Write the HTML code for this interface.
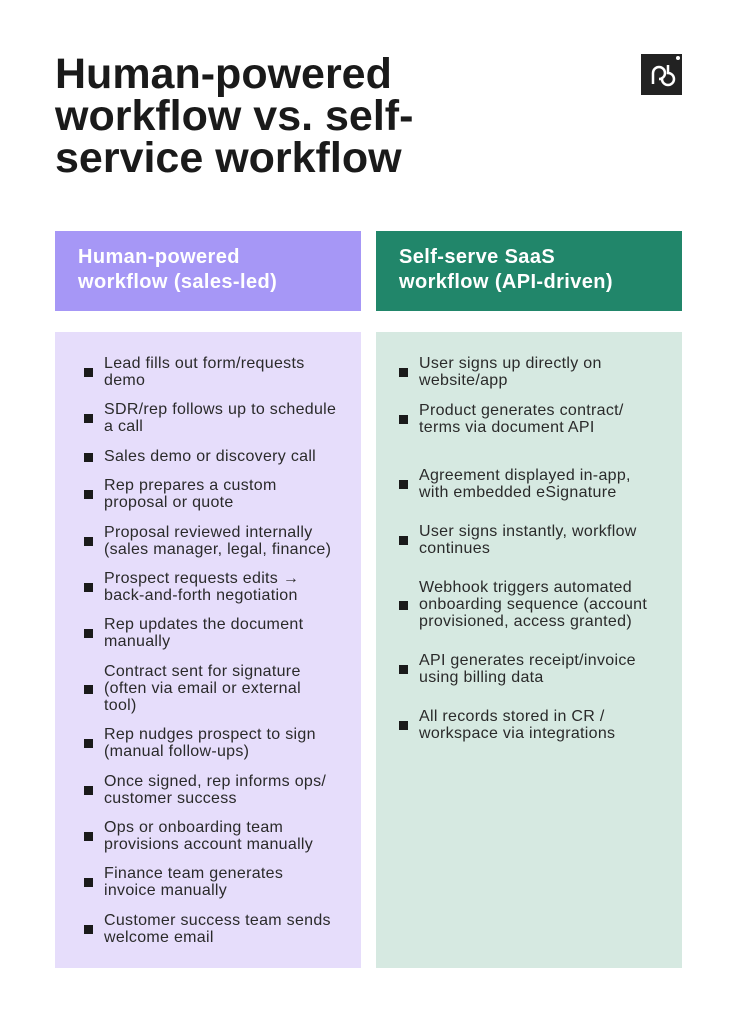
<!DOCTYPE html>
<html><head><style>
body{margin:0;width:737px;height:1024px;background:#fff;position:relative;font-family:"Liberation Sans",sans-serif;overflow:hidden}
.t{position:absolute;left:55px;top:53px;font-size:43px;font-weight:bold;line-height:42px;color:#1a1a1a;letter-spacing:0px}
.logo{position:absolute;left:641px;top:54px;width:41px;height:41px;background:#222}
.h{position:absolute;top:231px;width:306px;height:80px;color:#fff;font-weight:bold;font-size:20px;letter-spacing:0.4px;line-height:25px;box-sizing:border-box;padding:14px 0 0 23px}
.b{position:absolute;top:332px;width:306px;height:636px}
.i{position:absolute;font-size:16px;letter-spacing:0.3px;line-height:17px;color:#2a2a2a;width:262px}
.i:before{content:"";position:absolute;left:-20px;top:50%;margin-top:-4px;width:9px;height:9px;background:#1a1a1a}
</style></head><body>
<div class="t">Human-powered<br>workflow vs. self-<br>service workflow</div>
<div class="logo"><svg width="41" height="41" viewBox="0 0 41 41"><path d="M12 30V19a6 6 0 1 1 6 6h3a6 6 0 1 0 6-6V11" fill="none" stroke="#fff" stroke-width="2.5"/><circle cx="37" cy="4" r="2" fill="#fff"/></svg></div>
<div class="h" style="left:55px;background:#a697f6">Human-powered<br>workflow (sales-led)</div>
<div class="h" style="left:376px;background:#21866a">Self-serve SaaS<br>workflow (API-driven)</div>
<div class="b" style="left:55px;background:#e6ddfb"></div>
<div class="b" style="left:376px;background:#d6e9e1"></div>

<div class="i" style="left:104px;top:355px">Lead fills out form/requests<br>demo</div>
<div class="i" style="left:104px;top:401px">SDR/rep follows up to schedule<br>a call</div>
<div class="i" style="left:104px;top:448px">Sales demo or discovery call</div>
<div class="i" style="left:104px;top:477px">Rep prepares a custom<br>proposal or quote</div>
<div class="i" style="left:104px;top:524px">Proposal reviewed internally<br>(sales manager, legal, finance)</div>
<div class="i" style="left:104px;top:570px">Prospect requests edits →<br>back-and-forth negotiation</div>
<div class="i" style="left:104px;top:616px">Rep updates the document<br>manually</div>
<div class="i" style="left:104px;top:663px">Contract sent for signature<br>(often via email or external<br>tool)</div>
<div class="i" style="left:104px;top:726px">Rep nudges prospect to sign<br>(manual follow-ups)</div>
<div class="i" style="left:104px;top:773px">Once signed, rep informs ops/<br>customer success</div>
<div class="i" style="left:104px;top:819px">Ops or onboarding team<br>provisions account manually</div>
<div class="i" style="left:104px;top:865px">Finance team generates<br>invoice manually</div>
<div class="i" style="left:104px;top:912px">Customer success team sends<br>welcome email</div>

<div class="i" style="left:419px;top:355px">User signs up directly on<br>website/app</div>
<div class="i" style="left:419px;top:402px">Product generates contract/<br>terms via document API</div>
<div class="i" style="left:419px;top:467px">Agreement displayed in-app,<br>with embedded eSignature</div>
<div class="i" style="left:419px;top:523px">User signs instantly, workflow<br>continues</div>
<div class="i" style="left:419px;top:579px">Webhook triggers automated<br>onboarding sequence (account<br>provisioned, access granted)</div>
<div class="i" style="left:419px;top:652px">API generates receipt/invoice<br>using billing data</div>
<div class="i" style="left:419px;top:708px">All records stored in CR /<br>workspace via integrations</div>
</body></html>
